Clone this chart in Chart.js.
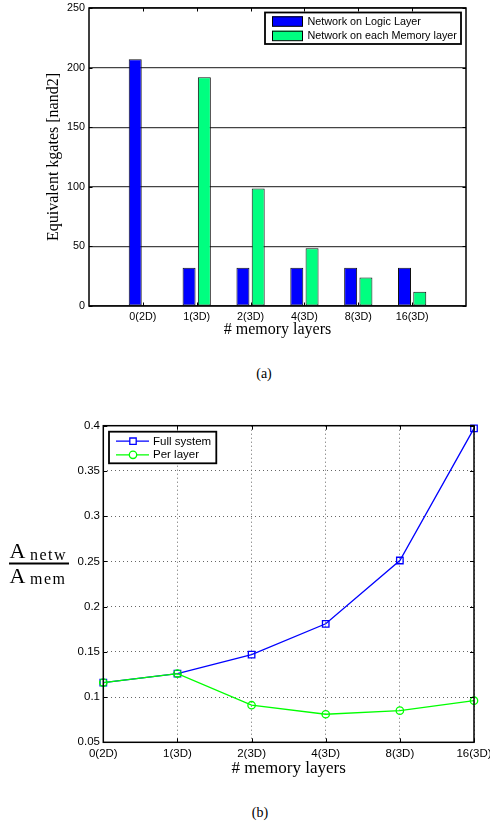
<!DOCTYPE html>
<html>
<head>
<meta charset="utf-8">
<script src="https://cdn.jsdelivr.net/npm/chart.js@4.4.1/dist/chart.umd.min.js"></script>
<style>
  html, body { margin: 0; padding: 0; background: #fff; }
  #page { position: relative; width: 490px; height: 830px; overflow: hidden; }
  canvas { position: absolute; left: 0; }
  .cap { position: absolute; width: 60px; text-align: center; font-family: "Liberation Serif", serif; font-size: 14px; line-height: 16px; color: #000; }
</style>
</head>
<body>
<div id="page">
  <canvas id="c1" width="490" height="345" style="top:0px"></canvas>
  <div class="cap" style="left:234px;top:366px">(a)</div>
  <canvas id="c2" width="490" height="400" style="top:400px"></canvas>
  <div class="cap" style="left:230px;top:805px">(b)</div>
</div>
<script>
// ---------- data ----------
const categories = ['0(2D)', '1(3D)', '2(3D)', '4(3D)', '8(3D)', '16(3D)'];
// (a) equivalent kgates [nand2]
const logicLayer  = [207, 32, 32, 32, 32, 32];
const memoryLayer = [0, 192, 98.5, 48.5, 24, 12];
const barSeriesNames = ['Network on Logic Layer', 'Network on each Memory layer'];
const kgateTicks = [0, 50, 100, 150, 200, 250];
// (b) A_netw / A_mem
const fullSystem = [0.116, 0.126, 0.147, 0.181, 0.251, 0.397];
const perLayer   = [0.116, 0.126, 0.091, 0.081, 0.085, 0.096];
const lineSeriesNames = ['Full system', 'Per layer'];
const ratioTicks = [0.05, 0.1, 0.15, 0.2, 0.25, 0.3, 0.35, 0.4];

const SANS = '"Liberation Sans", Arial, sans-serif';
const SERIF = '"Liberation Serif", "Times New Roman", serif';
const BLUE = '#0000ff', SPRING = '#00ff80', GREEN = '#00ff00';

// frame + inward tick marks
function framePlugin(tickLen) {
  return {
    id: 'frame',
    afterDraw(chart) {
      const { ctx, chartArea: a } = chart;
      const xs = chart.scales.x, ys = chart.scales.y;
      ctx.save();
      ctx.strokeStyle = '#000';
      ctx.lineWidth = 1;
      ctx.beginPath();
      xs.ticks.forEach((t, i) => {
        if (t.label === '' || t.label == null) return;
        const x = Math.round(xs.getPixelForTick(i)) + 0.5;
        ctx.moveTo(x, a.top); ctx.lineTo(x, a.top + tickLen);
        ctx.moveTo(x, a.bottom); ctx.lineTo(x, a.bottom - tickLen);
      });
      ys.ticks.forEach((t, i) => {
        const y = Math.round(ys.getPixelForTick(i)) + 0.5;
        ctx.moveTo(a.left, y); ctx.lineTo(a.left + tickLen, y);
        ctx.moveTo(a.right, y); ctx.lineTo(a.right - tickLen, y);
      });
      ctx.stroke();
      ctx.lineWidth = 1.5;
      ctx.strokeRect(a.left, a.top, a.right - a.left, a.bottom - a.top);
      ctx.restore();
    }
  };
}

// ---------- chart (a) ----------
const barLegend = {
  id: 'barLegend',
  afterDraw(chart) {
    const ctx = chart.ctx;
    const ds = chart.data.datasets;
    ctx.save();
    ctx.fillStyle = '#fff';
    ctx.fillRect(265, 12.5, 196, 31.5);
    ctx.strokeStyle = '#000';
    ctx.lineWidth = 1.8;
    ctx.strokeRect(265, 12.5, 196, 31.5);
    const rows = [21.3, 35.7];
    ctx.font = '10.8px ' + SANS;
    ctx.textBaseline = 'middle';
    ctx.textAlign = 'left';
    ds.forEach((d, i) => {
      ctx.fillStyle = d.backgroundColor;
      ctx.fillRect(272, rows[i] - 5, 31, 10);
      ctx.lineWidth = 1;
      ctx.strokeStyle = '#000';
      ctx.strokeRect(272.5, rows[i] - 4.5, 30, 9.5);
      ctx.fillStyle = '#000';
      ctx.fillText(d.label, 307.5, rows[i] + 0.5);
    });
    ctx.restore();
  }
};

new Chart(document.getElementById('c1'), {
  type: 'bar',
  data: {
    datasets: [
      { label: barSeriesNames[0], data: logicLayer.map((v, i) => ({ x: i + 1, y: v })),
        backgroundColor: BLUE, borderColor: '#111', borderWidth: 1, borderSkipped: false },
      { label: barSeriesNames[1], data: memoryLayer.map((v, i) => ({ x: i + 1, y: v })),
        backgroundColor: SPRING, borderColor: '#111', borderWidth: 1, borderSkipped: false }
    ]
  },
  options: {
    responsive: false,
    animation: false,
    categoryPercentage: 0.567,
    barPercentage: 0.85,
    layout: { padding: { top: 8, right: 24, left: 0, bottom: 0 } },
    plugins: { legend: { display: false }, tooltip: { enabled: false } },
    scales: {
      x: {
        type: 'linear', min: 0, max: categories.length + 1, offset: false,
        afterBuildTicks: s => { s.ticks = Array.from({ length: categories.length + 2 }, (_, i) => ({ value: i })); },
        ticks: { autoSkip: false, maxRotation: 0, padding: 5, color: '#000',
                 font: { family: SANS, size: 10.8 },
                 callback: v => categories[v - 1] ?? '' },
        grid: { display: false, drawTicks: false },
        border: { display: false },
        title: { display: true, text: '# memory layers', color: '#000',
                 font: { family: SERIF, size: 16 }, padding: { top: 0, bottom: 6 } },
        afterFit: s => { s.height = 39; s.paddingLeft = 0; s.paddingRight = 0; }
      },
      y: {
        min: kgateTicks[0], max: kgateTicks[kgateTicks.length - 1],
        afterBuildTicks: s => { s.ticks = kgateTicks.map(v => ({ value: v })); },
        ticks: { padding: 4, color: '#000', font: { family: SANS, size: 10.8 } },
        grid: { color: '#444', lineWidth: 1.2, drawTicks: false },
        border: { display: false },
        title: { display: true, text: 'Equivalent kgates [nand2]', color: '#000',
                 font: { family: SERIF, size: 16 }, padding: { top: 44.4, bottom: 0 } },
        afterFit: s => { s.width = 89; s.paddingTop = 0; s.paddingBottom = 0; }
      }
    }
  },
  plugins: [framePlugin(3.5), barLegend]
});

// ---------- chart (b) ----------
const lineLegend = {
  id: 'lineLegend',
  afterDraw(chart) {
    const ctx = chart.ctx;
    const ds = chart.data.datasets;
    ctx.save();
    ctx.fillStyle = '#fff';
    ctx.fillRect(109, 31.7, 107.3, 31.6);
    ctx.strokeStyle = '#000';
    ctx.lineWidth = 1.8;
    ctx.strokeRect(109, 31.7, 107.3, 31.6);
    const rows = [41.2, 54.8];
    ctx.font = '11.5px ' + SANS;
    ctx.textBaseline = 'middle';
    ds.forEach((d, i) => {
      const y = rows[i];
      ctx.strokeStyle = d.borderColor;
      ctx.lineWidth = 1.3;
      ctx.beginPath(); ctx.moveTo(116, y); ctx.lineTo(149, y); ctx.stroke();
      ctx.beginPath();
      if (d.pointStyle === 'rect') {
        ctx.rect(133 - 3.2, y - 3.2, 6.4, 6.4);
      } else {
        ctx.arc(133, y, 3.7, 0, Math.PI * 2);
      }
      ctx.fillStyle = '#fff';
      ctx.fill();
      ctx.stroke();
      ctx.fillStyle = '#000';
      ctx.fillText(d.label, 153, y + 0.5);
    });
    ctx.restore();
  }
};

const fractionLabel = {
  id: 'fractionLabel',
  afterDraw(chart) {
    const ctx = chart.ctx;
    ctx.save();
    ctx.fillStyle = '#000';
    ctx.textAlign = 'left';
    ctx.textBaseline = 'alphabetic';
    ctx.font = '22px ' + SERIF;
    ctx.fillText('A', 9.5, 158);
    ctx.fillText('A', 9.5, 182.7);
    ctx.font = '16px ' + SERIF;
    try { ctx.letterSpacing = '1.5px'; } catch (e) {}
    ctx.fillText('netw', 30, 159.5);
    ctx.fillText('mem', 30, 184);
    ctx.restore();
    ctx.save();
    ctx.strokeStyle = '#000';
    ctx.lineWidth = 1.8;
    ctx.beginPath(); ctx.moveTo(9, 163.5); ctx.lineTo(69, 163.5); ctx.stroke();
    ctx.restore();
  }
};

new Chart(document.getElementById('c2'), {
  type: 'line',
  data: {
    labels: categories,
    datasets: [
      { label: lineSeriesNames[0], data: fullSystem, order: 1,
        borderColor: BLUE, backgroundColor: BLUE, borderWidth: 1.3, tension: 0,
        pointStyle: 'rect', pointRadius: 4.6, pointBorderWidth: 1.3,
        pointBackgroundColor: 'rgba(0,0,0,0)', pointBorderColor: BLUE, clip: false },
      { label: lineSeriesNames[1], data: perLayer, order: 0,
        borderColor: GREEN, backgroundColor: GREEN, borderWidth: 1.3, tension: 0,
        pointStyle: 'circle', pointRadius: 3.7, pointBorderWidth: 1.3,
        pointBackgroundColor: 'rgba(0,0,0,0)', pointBorderColor: GREEN, clip: false }
    ]
  },
  options: {
    responsive: false,
    animation: false,
    layout: { padding: { top: 25.7, right: 16, left: 0, bottom: 0 } },
    plugins: { legend: { display: false }, tooltip: { enabled: false } },
    scales: {
      x: {
        offset: false,
        ticks: { autoSkip: false, maxRotation: 0, padding: 5, color: '#000',
                 font: { family: SANS, size: 11.5 } },
        grid: { color: '#666', lineWidth: 1, drawTicks: false },
        border: { display: false, dash: [1, 3] },
        title: { display: true, text: '# memory layers', color: '#000',
                 font: { family: SERIF, size: 17 }, padding: { top: 0, bottom: 20.8 } },
        afterFit: s => { s.height = 57.7; s.paddingLeft = 0; s.paddingRight = 0; }
      },
      y: {
        min: ratioTicks[0], max: ratioTicks[ratioTicks.length - 1],
        afterBuildTicks: s => { s.ticks = ratioTicks.map(v => ({ value: v })); },
        ticks: { padding: 3.3, color: '#000', font: { family: SANS, size: 11.5 },
                 callback: v => String(Math.round(v * 100) / 100) },
        grid: { color: '#666', lineWidth: 1, drawTicks: false },
        border: { display: false, dash: [1, 3] },
        afterFit: s => { s.width = 103.3; s.paddingTop = 0; s.paddingBottom = 0; }
      }
    }
  },
  plugins: [framePlugin(4), lineLegend, fractionLabel]
});
</script>
</body>
</html>
